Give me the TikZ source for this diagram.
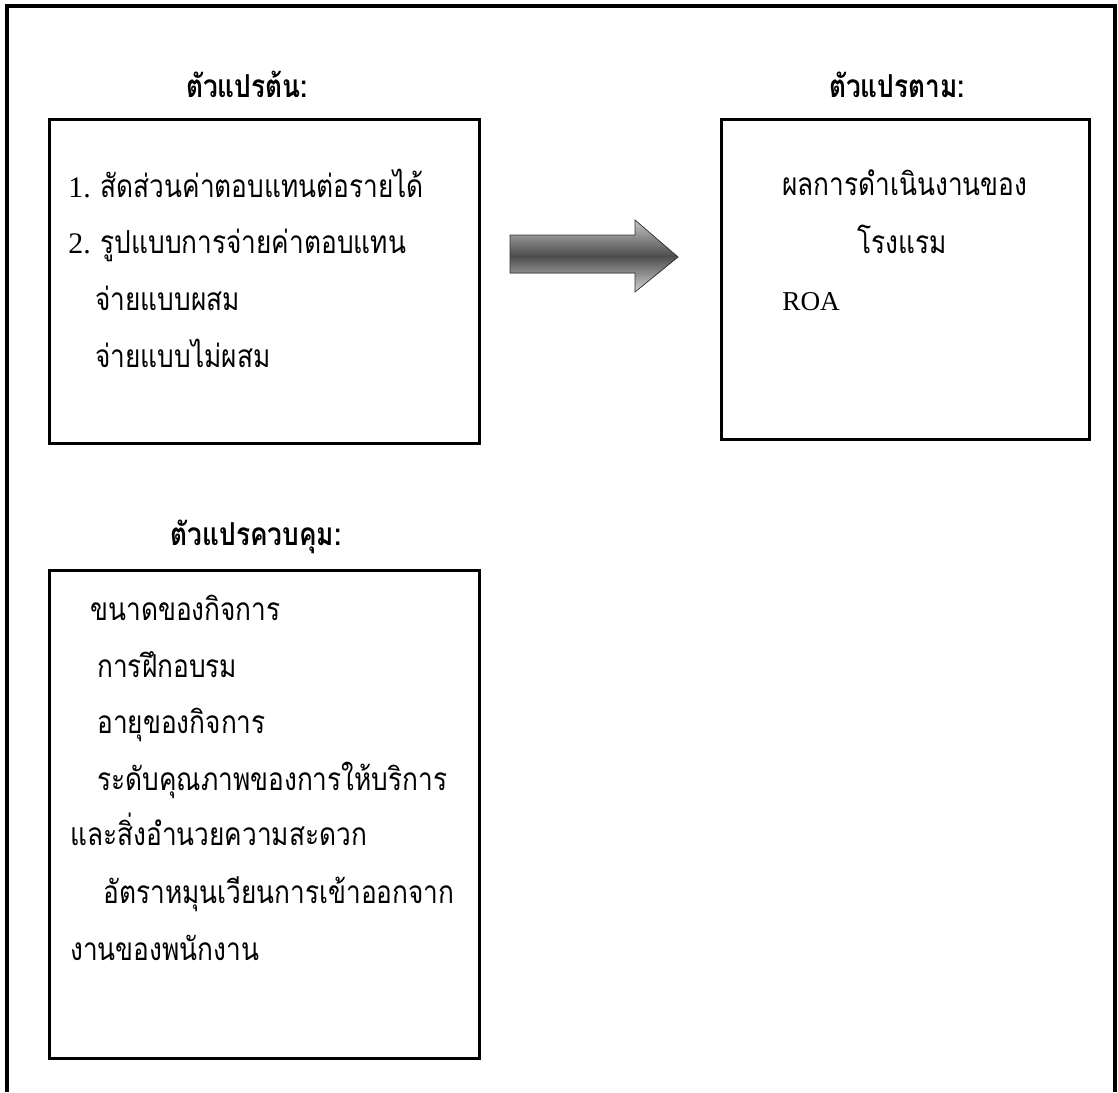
\documentclass[tikz,border=0pt]{standalone}
\usepackage{fontspec}
\setmainfont{Liberation Serif}
\newfontfamily\thaifont[Script=Thai, FakeStretch=0.83]{Loma}
\usetikzlibrary{positioning}

\tikzset{
  frame/.style={black, line width=2.2pt},
  varbox/.style={draw=black, line width=1.6pt, rectangle, inner sep=0pt, anchor=north west},
  vartitle/.style={anchor=base, font=\thaifont\bfseries\fontsize{18}{20}\selectfont, inner sep=0pt},
  item/.style={anchor=base west, font=\fontsize{17}{20}\selectfont, inner sep=0pt}
}

\begin{document}
\begin{tikzpicture}[x=0.02cm, y=-0.02cm]
  \useasboundingbox (0,0) rectangle (1118,1092);
  % outer frame, open at the bottom
  \coordinate (fbl) at (7,1092);
  \coordinate (ftl) at (7,6);
  \coordinate (ftr) at (1115,6);
  \coordinate (fbr) at (1115,1092);
  \draw[frame] (fbl) -- (ftl) -- (ftr) -- (fbr);

  % independent variables
  \node[vartitle] (indeptitle) at (247,97) {ตัวแปรต้น:};
  \node[varbox, minimum width=8.6cm, minimum height=6.48cm] (indep) at (48,118) {};
  \node[item] (i1) at (68,197) {1. {\thaifont\fontsize{18}{20}\selectfont สัดส่วนค่าตอบแทนต่อรายได้}};
  \node[item] (i2) at (68,253) {2. {\thaifont\fontsize{18}{20}\selectfont รูปแบบการจ่ายค่าตอบแทน}};
  \node[item] (i3) at (95,310) {\thaifont\fontsize{18}{20}\selectfont จ่ายแบบผสม};
  \node[item] (i4) at (95,367) {\thaifont\fontsize{18}{20}\selectfont จ่ายแบบไม่ผสม};

  % dependent variable
  \node[vartitle] (deptitle) at (897,97) {ตัวแปรตาม:};
  \node[varbox, minimum width=7.36cm, minimum height=6.4cm] (dep) at (720,118) {};
  \node[item] (d1) at (782,195) {\thaifont\fontsize{18}{20}\selectfont ผลการดำเนินงานของ};
  \node[item] (d2) at (857,253) {\thaifont\fontsize{18}{20}\selectfont โรงแรม};
  \node[item] (d3) at (782,310) {\fontsize{15.5}{18}\selectfont ROA};

  % control variables
  \node[vartitle] (ctrltitle) at (256,545) {ตัวแปรควบคุม:};
  \node[varbox, minimum width=8.6cm, minimum height=9.76cm] (ctrl) at (48,569) {};
  \node[item] (c1) at (90,620) {\thaifont\fontsize{18}{20}\selectfont ขนาดของกิจการ};
  \node[item] (c2) at (97,677) {\thaifont\fontsize{18}{20}\selectfont การฝึกอบรม};
  \node[item] (c3) at (97,733) {\thaifont\fontsize{18}{20}\selectfont อายุของกิจการ};
  \node[item] (c4) at (97,790) {\thaifont\fontsize{18}{20}\selectfont ระดับคุณภาพของการให้บริการ};
  \node[item] (c5) at (70,845) {\thaifont\fontsize{18}{20}\selectfont และสิ่งอำนวยความสะดวก};
  \node[item] (c6) at (103,903) {\thaifont\fontsize{18}{20}\selectfont อัตราหมุนเวียนการเข้าออกจาก};
  \node[item] (c7) at (70,960) {\thaifont\fontsize{18}{20}\selectfont งานของพนักงาน};

  % shaded arrow
  \coordinate (a1) at (510,235);
  \coordinate (a2) at (635,235);
  \coordinate (a3) at (635,220);
  \coordinate (a4) at (678,257);
  \coordinate (a5) at (635,292);
  \coordinate (a6) at (635,273);
  \coordinate (a7) at (510,273);
  \fill[black, shift={(2,3)}] (a1) -- (a2) -- (a3) -- (a4) -- (a5) -- (a6) -- (a7) -- cycle;
  \shade[top color=gray!45, bottom color=gray!35, middle color=black!70, draw=black!80, line width=0.4pt]
    (a1) -- (a2) -- (a3) -- (a4) -- (a5) -- (a6) -- (a7) -- cycle;
\end{tikzpicture}
\end{document}
